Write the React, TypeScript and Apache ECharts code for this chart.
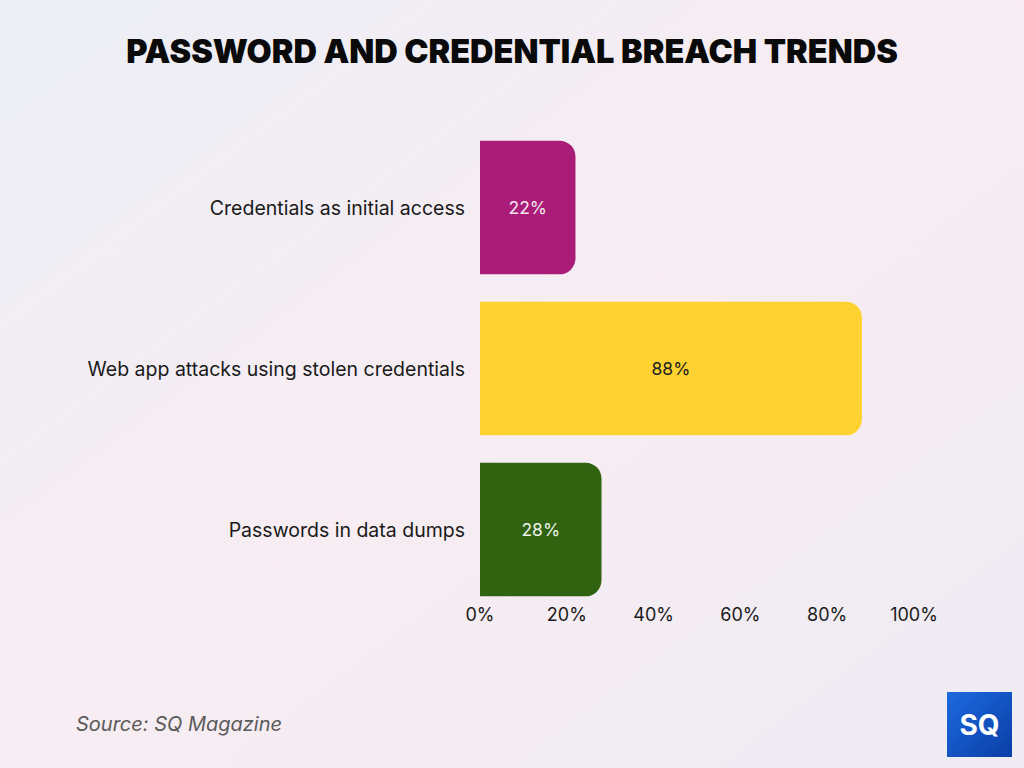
import React, { useEffect, useRef } from "react";
import * as echarts from "echarts";

const categories = [
  "Credentials as initial access",
  "Web app attacks using stolen credentials",
  "Passwords in data dumps",
];
const values = [22, 88, 28];
const barColors = ["#a91c77", "#fed231", "#31620f"];
const labelColors = ["#f3e6ef", "#222222", "#eef3ea"];
const xTicks = [0, 20, 40, 60, 80, 100];

export default function App() {
  const ref = useRef<HTMLDivElement>(null);
  useEffect(() => {
    if (!ref.current) return;
    const chart = echarts.init(ref.current, undefined, { renderer: "svg" });
    chart.setOption({
      animation: false,
      backgroundColor: {
        type: "linear",
        x: 0,
        y: 0,
        x2: 1,
        y2: 1,
        colorStops: [
          { offset: 0, color: "#eceef6" },
          { offset: 0.5, color: "#f7edf2" },
          { offset: 1, color: "#eeebf3" },
        ],
      },
      title: {
        text: "PASSWORD AND CREDENTIAL BREACH TRENDS",
        left: "center",
        top: 30,
        textStyle: {
          fontFamily: "Inter",
          fontWeight: 900,
          fontSize: 32.5,
          color: "#0a0a0a",
        },
      },
      grid: {
        left: 480,
        right: 110,
        top: 127,
        height: 483,
        containLabel: false,
      },
      xAxis: {
        type: "value",
        min: 0,
        max: 100,
        interval: 20,
        splitLine: { show: false },
        axisLine: { show: false },
        axisTick: { show: false },
        axisLabel: {
          formatter: (v: number) => (xTicks.includes(v) ? v + "%" : ""),
          fontFamily: "Inter",
          fontSize: 18,
          color: "#1a1a1a",
          margin: -5,
        },
      },
      yAxis: {
        type: "category",
        inverse: true,
        data: categories,
        axisLine: { show: false },
        axisTick: { show: false },
        axisLabel: {
          fontFamily: "Inter",
          fontSize: 19.5,
          color: "#1a1a1a",
          margin: 15,
        },
      },
      series: [
        {
          type: "bar",
          barCategoryGap: "17%",
          data: values.map((v, i) => ({
            value: v,
            itemStyle: { color: barColors[i], borderRadius: [0, 16, 16, 0] },
            label: { color: labelColors[i] },
          })),
          label: {
            show: true,
            position: "inside",
            formatter: "{c}%",
            fontFamily: "Inter",
            fontSize: 17.5,
          },
        },
      ],
      graphic: [
        {
          type: "text",
          left: 76,
          top: 714,
          style: {
            text: "Source: SQ Magazine",
            fontFamily: "Inter",
            fontStyle: "italic",
            fontSize: 20,
            fill: "#5a5a5a",
          },
        },
        {
          type: "rect",
          shape: { x: 947, y: 692, width: 65, height: 65 },
          style: {
            fill: {
              type: "linear",
              x: 0,
              y: 0,
              x2: 1,
              y2: 1,
              colorStops: [
                { offset: 0, color: "#1d6ae0" },
                { offset: 1, color: "#0a3ea6" },
              ],
            },
          },
        },
        {
          type: "text",
          x: 979.5,
          y: 724.5,
          style: {
            text: "SQ",
            fontFamily: "Inter",
            fontWeight: 700,
            fontSize: 28,
            fill: "#ffffff",
            align: "center",
            verticalAlign: "middle",
          },
        },
      ],
    });
    return () => chart.dispose();
  }, []);
  return <div ref={ref} style={{ width: 1024, height: 768, position: "absolute", left: 0, top: 0 }} />;
}
